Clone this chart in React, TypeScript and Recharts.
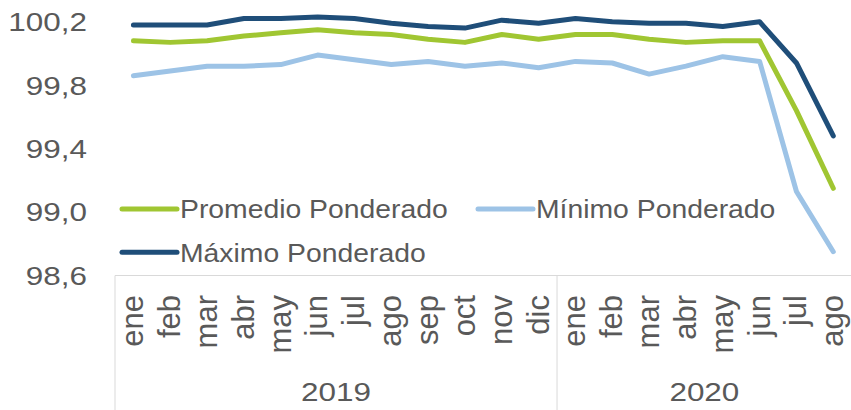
import React from 'react';
import { LineChart, Line, XAxis, YAxis, Legend } from 'recharts';

const months = ['ene','feb','mar','abr','may','jun','jul','ago','sep','oct','nov','dic','ene','feb','mar','abr','may','jun','jul','ago'];
const years = ['2019','2019','2019','2019','2019','2019','2019','2019','2019','2019','2019','2019','2020','2020','2020','2020','2020','2020','2020','2020'];
const promedio = [100.08,100.07,100.08,100.11,100.13,100.15,100.13,100.12,100.09,100.07,100.12,100.09,100.12,100.12,100.09,100.07,100.08,100.08,99.64,99.15];
const minimo = [99.86,99.89,99.92,99.92,99.93,99.99,99.96,99.93,99.95,99.92,99.94,99.91,99.95,99.94,99.87,99.92,99.98,99.95,99.13,98.75];
const maximo = [100.18,100.18,100.18,100.22,100.22,100.23,100.22,100.19,100.17,100.16,100.21,100.19,100.22,100.20,100.19,100.19,100.17,100.20,99.94,99.48];
const yTicks = [98.6, 99.0, 99.4, 99.8, 100.2];

const series = [
  { key: 'promedio', name: 'Promedio Ponderado', color: '#A0C632' },
  { key: 'minimo', name: 'Mínimo Ponderado', color: '#9DC3E6' },
  { key: 'maximo', name: 'Máximo Ponderado', color: '#1F4E79' },
];

const data = months.map((m, i) => ({
  month: m,
  year: years[i],
  promedio: promedio[i],
  minimo: minimo[i],
  maximo: maximo[i],
}));

const TEXT = '#595959';
const GRID = '#D9D9D9';
const FONT = '"Liberation Sans", Arial, sans-serif';
const HALF_BAND = 18.42;

function YTick(props: any) {
  const { x, y, payload } = props;
  const label = Number(payload.value).toFixed(1).replace('.', ',');
  return (
    <text x={x} y={y} dy="0.36em" textAnchor="end" fill={TEXT} fontSize={26} fontFamily={FONT}
      transform={`translate(${x} 0) scale(1.21 1) translate(${-x} 0)`}>
      {label}
    </text>
  );
}

function XTick(props: any) {
  const { x, y, payload } = props;
  const i = payload.index;
  const off = HALF_BAND;
  const bottom = 410;
  const ty = y + 19.5;
  const parts: any[] = [];
  parts.push(
    <text key="m" x={x} y={ty} dy="0.32em" textAnchor="end" fill={TEXT} fontSize={31} fontFamily={FONT}
      transform={`rotate(-90 ${x} ${ty})`}>
      {payload.value}
    </text>
  );
  const isStart = i === 0 || years[i] !== years[i - 1];
  if (isStart) {
    let n = 0;
    while (i + n < years.length && years[i + n] === years[i]) n++;
    const cx = x - off + n * off;
    parts.push(<line key="s" x1={x - off} x2={x - off} y1={y} y2={bottom} stroke={GRID} strokeWidth={1} />);
    parts.push(
      <text key="y" x={cx} y={y + 126} textAnchor="middle" fill={TEXT} fontSize={26} fontFamily={FONT}
        transform={`translate(${cx} 0) scale(1.21 1) translate(${-cx} 0)`}>
        {years[i]}
      </text>
    );
  }
  if (i === months.length - 1) {
    parts.push(<line key="e" x1={x + off} x2={x + off} y1={y} y2={bottom} stroke={GRID} strokeWidth={1} />);
  }
  return <g>{parts}</g>;
}

const legendPos: Record<string, { x: number; y: number }> = {
  'Promedio Ponderado': { x: 122, y: 209 },
  'Mínimo Ponderado': { x: 478, y: 209 },
  'Máximo Ponderado': { x: 122, y: 252.3 },
};

function LegendContent(props: any) {
  const payload = props.payload || [];
  return (
    <svg width={860} height={410} style={{ position: 'absolute', left: 0, top: 0, overflow: 'visible' }}>
      {payload.map((p: any, i: number) => {
        const pos = legendPos[p.value] || { x: 122, y: 209 + i * 43 };
        const tx = pos.x + 58;
        return (
          <g key={i}>
            <line x1={pos.x} x2={pos.x + 55} y1={pos.y} y2={pos.y} stroke={p.color} strokeWidth={5} strokeLinecap="round" />
            <text x={tx} y={pos.y + 9.3} fill={TEXT} fontSize={26} fontFamily={FONT}
              transform={`translate(${tx} 0) scale(1.09 1) translate(${-tx} 0)`}>
              {p.value}
            </text>
          </g>
        );
      })}
    </svg>
  );
}

export default function App() {
  return (
    <div style={{ position: 'absolute', left: 0, top: 0, width: 851, height: 410, overflow: 'hidden', background: '#fff' }}>
      <LineChart width={860} height={410} data={data} margin={{ top: 5.9, right: 8.3, bottom: 0, left: 0 }}>
        <XAxis dataKey="month" interval={0} height={134.5} tickLine={false} tickSize={0} tickMargin={0}
          padding={{ left: HALF_BAND, right: HALF_BAND }}
          axisLine={{ stroke: GRID, strokeWidth: 1 }} tick={<XTick />} />
        <YAxis domain={[98.6, 100.3]} ticks={yTicks} interval={0} width={115} axisLine={false} tickLine={false}
          tickSize={0} tickMargin={28} tick={<YTick />} />
        <Legend verticalAlign="middle" align="center" layout="horizontal"
          wrapperStyle={{ left: 0, top: 0, width: 860, height: 410, pointerEvents: 'none' }}
          content={<LegendContent />} />
        {series.map((s) => (
          <Line key={s.key} type="linear" dataKey={s.key} name={s.name} stroke={s.color} strokeWidth={5}
            dot={false} activeDot={false} isAnimationActive={false} strokeLinejoin="round" strokeLinecap="round" />
        ))}
      </LineChart>
    </div>
  );
}
